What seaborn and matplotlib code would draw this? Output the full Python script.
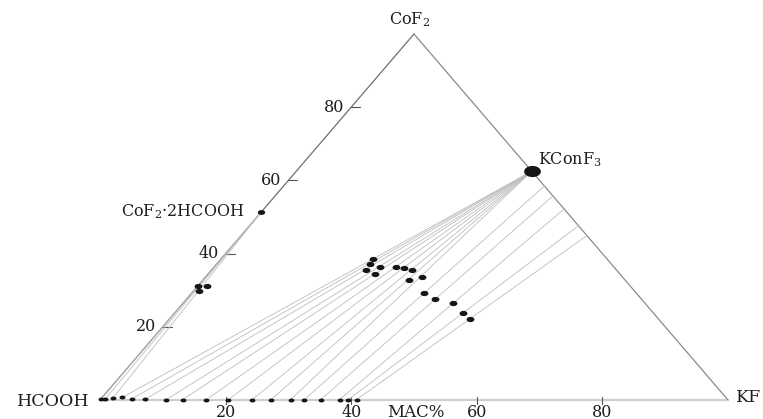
import numpy as np
import pandas as pd
import matplotlib
matplotlib.use("Agg")
import matplotlib.pyplot as plt
from matplotlib.path import Path
import seaborn as sns

sns.set_theme(style="white")
plt.rcParams["font.family"] = ["DejaVu Serif"]
plt.rcParams["mathtext.fontset"] = "dejavuserif"

# Liquid phase compositions, mass % (HCOOH by difference)
liquid_kf = [0.0, 0.7, 1.8, 3.2, 4.9, 7.1, 10.5, 13.1, 16.9, 20.4,
             24.2, 27.2, 30.3, 32.5, 35.1, 38.1, 39.5, 40.8]
liquid_cof2 = [0.2, 0.3, 0.5, 0.7, 0.3, 0.2, 0.1, 0.1, 0.1, 0.1,
               0.1, 0.1, 0.1, 0.1, 0.1, 0.1, 0.1, 0.1]

# Wet residue compositions, mass %
residue_kf = [0.0, 0.8, 1.4, 24.3, 24.4, 24.6, 26.4, 26.6, 29.0, 30.4,
              32.0, 32.8, 34.4, 37.0, 39.6, 43.0, 45.9, 47.8]
residue_cof2 = [31.2, 29.8, 31.2, 38.5, 37.2, 35.6, 36.4, 34.3, 36.4, 36.1,
                35.5, 32.9, 33.7, 29.2, 27.5, 26.4, 23.7, 22.1]

# Equilibrium solid for each tie line ("edge": extended to the KF-CoF2 side)
solid_phase = ["CoF2·2HCOOH"] * 3 + ["KConF3"] * 10 + ["edge"] * 5

# Compounds: name -> (KF %, CoF2 %)
compound_names = ["CoF2·2HCOOH", "KConF3"]
compound_kf = [0.0, 37.5]
compound_cof2 = [51.3, 62.5]

axis_ticks = [20, 40, 60, 80]


def to_xy(kf, cof2):
    kf = np.asarray(kf, float) / 100.0
    cof2 = np.asarray(cof2, float) / 100.0
    return kf + cof2 / 2.0, cof2


def solid_end(i):
    if solid_phase[i] in compound_names:
        j = compound_names.index(solid_phase[i])
        return compound_kf[j], compound_cof2[j]
    lk, lc = liquid_kf[i], liquid_cof2[i]
    rk, rc = residue_kf[i], residue_cof2[i]
    t = (100.0 - lk - lc) / ((rk + rc) - (lk + lc))
    return lk + t * (rk - lk), lc + t * (rc - lc)


# tie lines: liquid -> solid
rows = []
for i in range(len(liquid_kf)):
    sk, sc = solid_end(i)
    for k, c in [(liquid_kf[i], liquid_cof2[i]), (sk, sc)]:
        x, y = to_xy(k, c)
        rows.append({"tie": i, "x": float(x), "y": float(y)})
ties = pd.DataFrame(rows)

fig = plt.figure(figsize=(7.63, 4.19), dpi=100)
ax = fig.add_axes([0, 0, 1, 1])
W, H = 628.0, 366.0
ax.set_xlim(-100 / W, 663 / W)
ax.set_ylim(-19 / H, 400 / H)
ax.set_axis_off()

# triangle frame
ax.plot([0, 1], [0, 0], color="#cfcfcf", lw=1.6, zorder=1)
ax.plot([0, 0.5], [0, 1], color="#6e6e6e", lw=0.9, zorder=1)
ax.plot([0.5, 1], [1, 0], color="#8a8a8a", lw=0.9, zorder=1)

sns.lineplot(data=ties, x="x", y="y", units="tie", estimator=None, sort=False,
             color="#bdbdbd", lw=0.6, ax=ax, legend=False, zorder=2)

t = np.linspace(0, 2 * np.pi, 40)
ellipse = Path(np.column_stack([1.5 * np.cos(t), np.sin(t)]), closed=True)

lx, ly = to_xy(liquid_kf, liquid_cof2)
rx, ry = to_xy(residue_kf, residue_cof2)
cx, cy = to_xy(compound_kf, compound_cof2)
dot = "#161616"
sns.scatterplot(x=lx, y=ly, marker=ellipse, s=18, color=dot, linewidth=0, ax=ax, zorder=3)
sns.scatterplot(x=rx, y=ry, marker=ellipse, s=32, color=dot, linewidth=0, ax=ax, zorder=3)
sns.scatterplot(x=cx[:1], y=cy[:1], marker=ellipse, s=28, color=dot, linewidth=0, ax=ax, zorder=3)
sns.scatterplot(x=cx[1:], y=cy[1:], marker=ellipse, s=145, color=dot, linewidth=0, ax=ax, zorder=3)

fs = 11.5
tc = "#1e1e1e"
# bottom axis ticks (KF %)
for v in axis_ticks:
    x = v / 100.0
    ax.plot([x, x], [3 / H, -4 / H], color="#555555", lw=0.8, zorder=1)
    ax.text(x, -12 / H, str(v), ha="center", va="center", fontsize=fs, color=tc)
ax.text(315.5 / W, -12 / H, "MAC%", ha="center", va="center", fontsize=fs + 0.5, color=tc)

# left axis ticks (CoF2 %)
for v in axis_ticks:
    c = v / 100.0
    x, y = c / 2.0, c
    ax.plot([x, x + 9 / W], [y, y], color="#555555", lw=0.8, zorder=1)
    ax.text(x - 7 / W, y, str(v), ha="right", va="center", fontsize=fs, color=tc)

# vertex and compound labels
ax.text(-10 / W, -1 / H, "HCOOH", ha="right", va="center", fontsize=fs + 1, color=tc)
ax.text(1 + 8 / W, 3 / H, "KF", ha="left", va="center", fontsize=fs + 1, color=tc)
ax.text(0.5 - 4 / W, 1 + 10 / H, r"CoF$_2$", ha="center", va="baseline", fontsize=fs, color=tc)
ax.text(cx[1] + 6 / W, cy[1] + 7 / H, r"KConF$_3$", ha="left", va="baseline", fontsize=fs, color=tc)
ax.text(cx[0] - 17 / W, cy[0] - 4 / H, r"CoF$_2$·2HCOOH", ha="right", va="baseline", fontsize=fs, color=tc)

fig.savefig("out.png", dpi=100)
